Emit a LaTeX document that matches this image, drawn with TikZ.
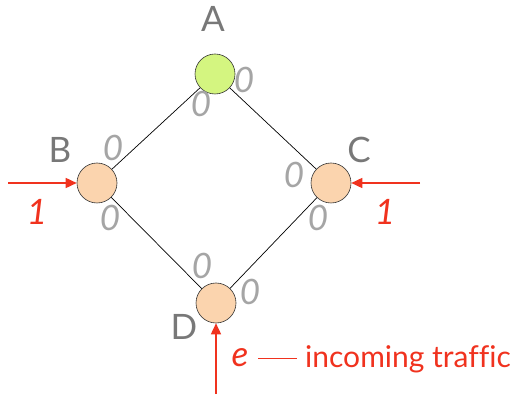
\documentclass[tikz,border=0pt]{standalone}
\usepackage{fontspec}
\setmainfont{Lato}
\usetikzlibrary{arrows.meta}
\definecolor{nodegreen}{RGB}{212,245,128}
\definecolor{nodepeach}{RGB}{251,212,174}
\definecolor{trafred}{RGB}{240,50,30}
\definecolor{labgray}{RGB}{120,120,120}
\definecolor{zerogray}{RGB}{165,165,165}
\tikzset{
  router/.style={circle,draw=black!80,line width=0.6pt,minimum size=40pt,inner sep=0pt},
  rname/.style={text=labgray,font=\fontsize{35}{35}\selectfont},
  zero/.style={text=zerogray,font=\fontsize{35}{35}\selectfont\itshape},
  link/.style={draw=black,line width=0.7pt},
  traffic/.style={draw=trafred,line width=1.6pt,-{Triangle[length=11pt,width=10pt]}},
  tlabel/.style={text=trafred,font=\fontsize{35}{35}\selectfont\itshape},
  ttext/.style={text=trafred,font=\fontsize{30}{30}\selectfont\addfontfeatures{Ligatures=NoCommon}}
}
\begin{document}
\begin{tikzpicture}[x=1pt,y=1pt]
\useasboundingbox (0,0) rectangle (516,396);
\node[router,fill=nodegreen] (A) at (215,322) {};
\node[router,fill=nodepeach] (B) at (97,213) {};
\node[router,fill=nodepeach] (C) at (331,213) {};
\node[router,fill=nodepeach] (D) at (216,93) {};
\draw[link] (A) -- (B);
\draw[link] (A) -- (C);
\draw[link] (B) -- (D);
\draw[link] (C) -- (D);
\node[rname] (la) at (213,377) {A};
\node[rname] (lb) at (60,246) {B};
\node[rname] (lc) at (359,246) {C};
\node[rname] (ld) at (184,69) {D};
\node[zero] (za1) at (244,316) {0};
\node[zero] (za2) at (201,292) {0};
\node[zero] (zb1) at (113,248) {0};
\node[zero] (zb2) at (110,178) {0};
\node[zero] (zc1) at (294,221) {0};
\node[zero] (zc2) at (318,178) {0};
\node[zero] (zd1) at (202,130) {0};
\node[zero] (zd2) at (250,104) {0};
\coordinate (sb) at (8,213);
\coordinate (sc) at (420,213);
\coordinate (sd) at (216,2);
\draw[traffic] (sb) -- (B);
\draw[traffic] (sc) -- (C);
\draw[traffic] (sd) -- (D);
\node[tlabel] (l1) at (37,184) {1};
\node[tlabel] (l2) at (385,184) {1};
\node[tlabel] (le) at (240,38) {e};
\node[ttext,anchor=west,inner sep=0pt] (lt) at (258,37) {\rule[8pt]{39pt}{1.6pt}\hspace{8pt}incoming traffic};
\end{tikzpicture}
\end{document}
